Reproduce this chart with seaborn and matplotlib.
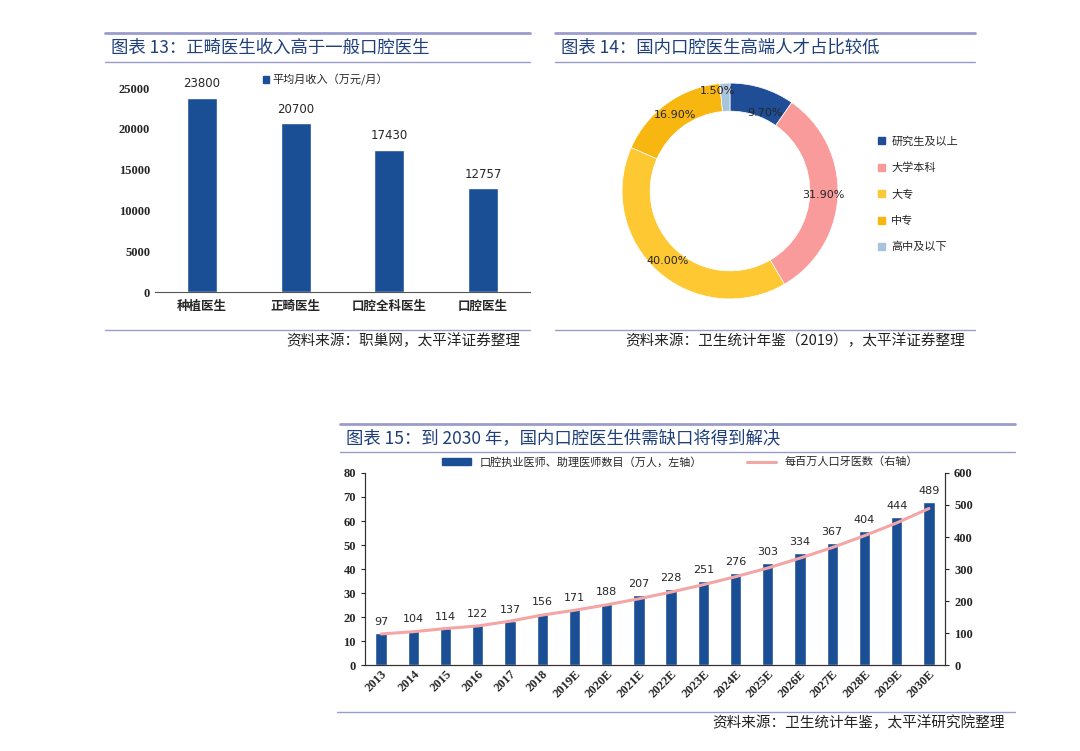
import matplotlib
matplotlib.use("Agg")
import matplotlib.pyplot as plt
import seaborn as sns
import pandas as pd
import numpy as np
from matplotlib.lines import Line2D
from matplotlib.patches import Patch

CJK = "Noto Sans CJK SC"
SERIF = "Liberation Serif"

# Chart 13 data
doc_types = ["种植医生", "正畸医生", "口腔全科医生", "口腔医生"]
incomes = [23800, 20700, 17430, 12757]

# Chart 14 data
edu_labels = ["研究生及以上", "大学本科", "大专", "中专", "高中及以下"]
edu_share = [9.70, 31.90, 40.00, 16.90, 1.50]
edu_colors = ["#1f4e96", "#f99b9b", "#fdc832", "#f8b710", "#a8c3dc"]

# Chart 15 data
years = ["2013", "2014", "2015", "2016", "2017", "2018", "2019E", "2020E", "2021E",
         "2022E", "2023E", "2024E", "2025E", "2026E", "2027E", "2028E", "2029E", "2030E"]
dentists = [13.5, 14.5, 15.5, 16.5, 18.5, 21.5, 23.5, 26.0, 29.0,
            31.5, 35.0, 38.5, 42.5, 46.5, 51.0, 56.0, 61.5, 68.0]
per_million = [97, 104, 114, 122, 137, 156, 171, 188, 207,
               228, 251, 276, 303, 334, 367, 404, 444, 489]

BLUE = "#1a4f96"
PINK = "#f4a5a5"
TITLE_C = "#1f3f7a"
LINE_C = "#9a9ccc"

W, H = 1080, 751
fig = plt.figure(figsize=(W / 100, H / 100), dpi=100)
sns.set_style("white")

def ax_px(x0, y0, x1, y1):
    return fig.add_axes([x0 / W, 1 - y1 / H, (x1 - x0) / W, (y1 - y0) / H])

def hline(x0, x1, y, lw=1.0, c=LINE_C):
    fig.add_artist(Line2D([x0 / W, x1 / W], [1 - y / H, 1 - y / H], color=c, lw=lw))

def header(x0, x1, ytop, ybot, title):
    hline(x0, x1, ytop, 2.0)
    hline(x0, x1, ybot, 1.0)
    fig.text((x0 + 6) / W, 1 - ((ytop + ybot) / 2) / H, title, fontfamily=CJK,
             fontsize=12.5, color=TITLE_C, va="center", ha="left")

def source(x0, x1, y, text):
    hline(x0, x1, y, 1.0)
    fig.text((x1 - 10) / W, 1 - (y + 11) / H, text, fontfamily=CJK, fontsize=10.5,
             style="italic", color="#222222", ha="right", va="center")

# ---------- Chart 13 ----------
header(105, 530, 33, 62, "图表 13：正畸医生收入高于一般口腔医生")
source(105, 530, 330, "资料来源：职巢网，太平洋证券整理")
ax1 = ax_px(155, 88, 530, 292)
df1 = pd.DataFrame({"type": doc_types, "income": incomes})
sns.barplot(data=df1, x="type", y="income", color=BLUE, width=0.32, ax=ax1, saturation=1)
ax1.set_ylim(0, 25000)
ax1.set_yticks(range(0, 25001, 5000))
ax1.set_xlabel(""); ax1.set_ylabel("")
for s in ["top", "right", "left"]:
    ax1.spines[s].set_visible(False)
ax1.spines["bottom"].set_color("#555555")
ax1.tick_params(axis="y", length=0, labelsize=9)
ax1.tick_params(axis="x", length=0, pad=6)
for t in ax1.get_yticklabels():
    t.set_fontfamily(SERIF); t.set_fontweight("bold")
for t in ax1.get_xticklabels():
    t.set_fontfamily(CJK); t.set_fontweight("bold"); t.set_fontsize(9)
for i, v in enumerate(incomes):
    ax1.text(i, v + 900, str(v), ha="center", va="bottom", fontsize=8.5, fontfamily="DejaVu Sans")
ax1.legend(handles=[Patch(color=BLUE)], labels=["平均月收入（万元/月）"], loc="upper left",
           bbox_to_anchor=(0.26, 1.12), frameon=False, prop={"family": CJK, "size": 8},
           handlelength=0.6, handleheight=0.6, handletextpad=0.3)

# ---------- Chart 14 ----------
header(555, 975, 33, 62, "图表 14：国内口腔医生高端人才占比较低")
source(555, 975, 330, "资料来源：卫生统计年鉴（2019），太平洋证券整理")
ax2 = ax_px(621, 82, 839, 300)
wedges, _ = ax2.pie(edu_share, colors=edu_colors, startangle=90, counterclock=False,
                    wedgeprops=dict(width=0.26, edgecolor="white", linewidth=0.5))
ax2.set_xlim(-1.01, 1.01); ax2.set_ylim(-1.01, 1.01)
ax2.set_aspect("equal")
for w, v in zip(wedges, edu_share):
    ang = np.deg2rad((w.theta1 + w.theta2) / 2)
    r = 0.87
    x, y = r * np.cos(ang), r * np.sin(ang)
    if v < 5:
        x, y = -0.12, 0.93
    elif v < 12:
        x, y = 0.32, 0.72
    ax2.text(x, y, f"{v:.2f}%", ha="center", va="center",
             fontsize=8, fontfamily="DejaVu Sans")
leg_handles = [Patch(color=c) for c in edu_colors]
fig.legend(handles=leg_handles, labels=edu_labels, loc="upper left",
           bbox_to_anchor=(868 / W, 1 - 126 / H), frameon=False,
           prop={"family": CJK, "size": 8}, handlelength=0.6, handleheight=0.6,
           handletextpad=0.6, labelspacing=1.45)

# ---------- Chart 15 ----------
header(340, 1015, 424, 452, "图表 15：到 2030 年，国内口腔医生供需缺口将得到解决")
source(337, 1015, 712, "资料来源：卫生统计年鉴，太平洋研究院整理")
ax3 = ax_px(365, 473, 945, 665)
df3 = pd.DataFrame({"year": years, "dentists": dentists, "per_million": per_million})
sns.barplot(data=df3, x="year", y="dentists", color=BLUE, width=0.35, ax=ax3, saturation=1)
ax3.set_ylim(0, 80)
ax3.set_yticks(range(0, 81, 10))
ax3.set_xlim(-0.5, len(years) - 0.5)
ax4 = ax3.twinx()
sns.lineplot(x=np.arange(len(years)), y=per_million, color=PINK, lw=2.2, ax=ax4)
ax4.set_ylim(0, 600)
ax4.set_yticks(range(0, 601, 100))
for a in (ax3, ax4):
    a.set_xlabel(""); a.set_ylabel("")
    a.spines["top"].set_visible(False)
    for s in ["left", "right", "bottom"]:
        a.spines[s].set_color("#333333")
    a.tick_params(axis="y", length=3, labelsize=9)
    for t in a.get_yticklabels():
        t.set_fontfamily(SERIF); t.set_fontweight("bold")
ax3.tick_params(axis="x", length=0, pad=2)
ax3.set_xticks(range(len(years)))
ax3.set_xticklabels(years, rotation=45, ha="right", rotation_mode="anchor",
                    fontfamily=SERIF, fontweight="bold", fontsize=9)
for i, (b, p) in enumerate(zip(dentists, per_million)):
    y = max(b, p * 80 / 600) + 2.5
    ax3.text(i, y, str(p), ha="center", va="bottom", fontsize=8, fontfamily="DejaVu Sans")
fig.legend(handles=[Patch(color=BLUE), Line2D([], [], color=PINK, lw=2.2)],
           labels=["口腔执业医师、助理医师数目（万人，左轴）", "每百万人口牙医数（右轴）"],
           loc="center", bbox_to_anchor=(680 / W, 1 - 462 / H), ncol=2, frameon=False,
           prop={"family": CJK, "size": 8}, handlelength=2.6, handleheight=0.5,
           columnspacing=4)

fig.savefig("out.png", dpi=100, facecolor="white")
